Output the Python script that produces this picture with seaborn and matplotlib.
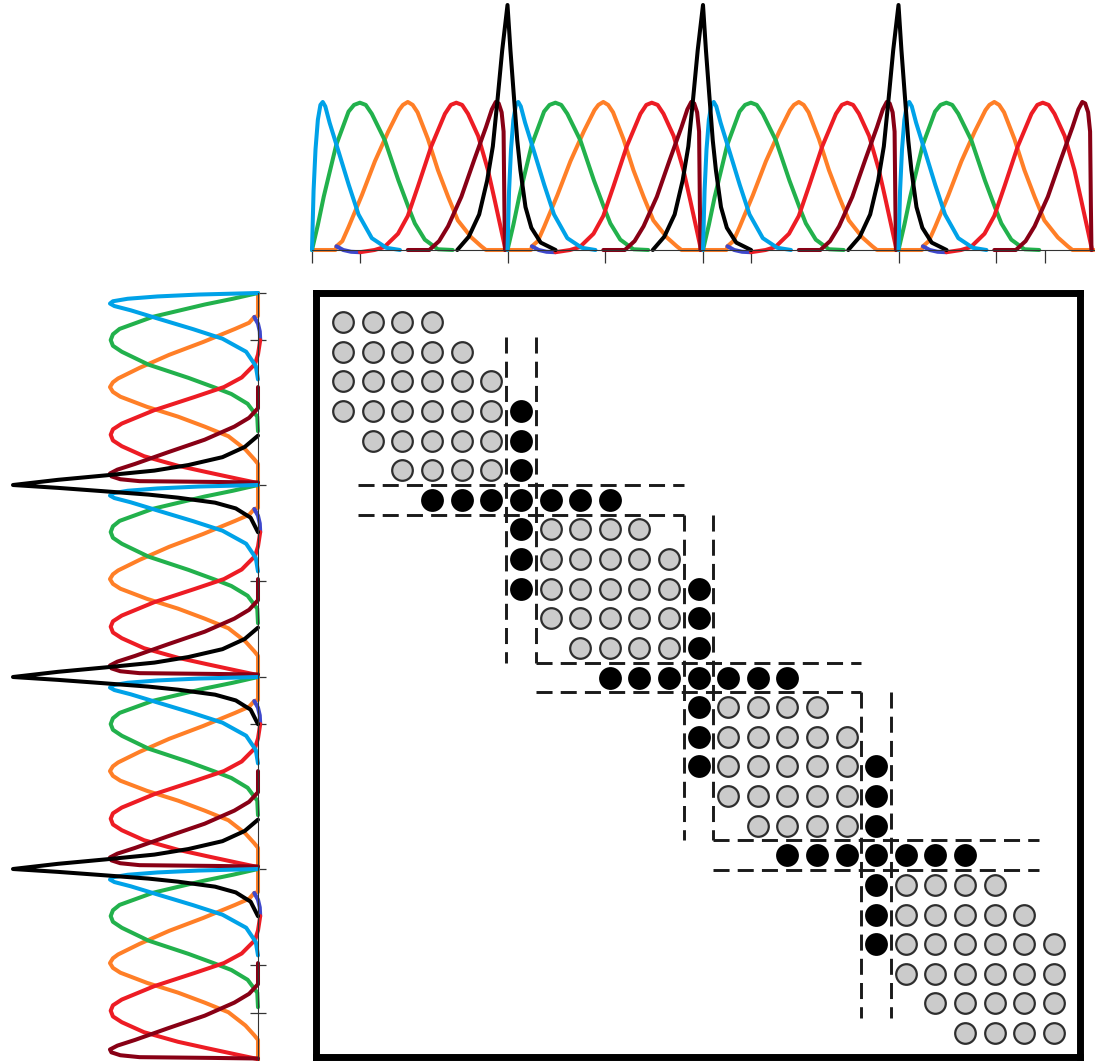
import numpy as np
import pandas as pd
import matplotlib
matplotlib.use("Agg")
import matplotlib.pyplot as plt
import seaborn as sns

sns.set_style("white")

# basis functions of one element, u = position inside the element (0..1),
# v = value (1 = height of the coloured bumps), read off the top strip
cyan_u = [0.0, 0.008, 0.018, 0.03, 0.043, 0.055, 0.068, 0.09, 0.137, 0.188, 0.238, 0.306, 0.38, 0.45]
cyan_v = [0.0, 0.40, 0.68, 0.88, 0.98, 1.00, 0.97, 0.86, 0.66, 0.44, 0.24, 0.08, 0.015, 0.0]
green_u = [0.0, 0.03, 0.06, 0.124, 0.187, 0.215, 0.245, 0.275, 0.306, 0.373, 0.442, 0.493, 0.526, 0.577, 0.644, 0.72]
green_v = [0.0, 0.17, 0.36, 0.71, 0.935, 0.98, 0.995, 0.98, 0.92, 0.74, 0.47, 0.29, 0.18, 0.07, 0.005, 0.0]
orange_u = [0.0, 0.12, 0.125, 0.155, 0.187, 0.255, 0.322, 0.39, 0.445, 0.465, 0.49, 0.515, 0.54, 0.593,
            0.644, 0.696, 0.746, 0.815, 0.866, 0.89, 1.0]
orange_v = [0.0, 0.0, 0.025, 0.06, 0.155, 0.37, 0.6, 0.8, 0.945, 0.98, 1.0, 0.98, 0.93, 0.75,
            0.54, 0.36, 0.2, 0.085, 0.025, 0.0, 0.0]
blue_u = [0.125, 0.16, 0.2, 0.245]
blue_v = [0.025, 0.0, -0.012, -0.015]
red_u = [0.245, 0.32, 0.37, 0.44, 0.49, 0.542, 0.61, 0.68, 0.71, 0.738, 0.768, 0.798, 0.85, 0.90, 0.934, 0.968, 0.99]
red_v = [-0.015, 0.0, 0.02, 0.11, 0.23, 0.43, 0.70, 0.92, 0.98, 0.995, 0.98, 0.92, 0.77, 0.54, 0.34, 0.135, 0.0]
darkred_u = [0.49, 0.6, 0.65, 0.696, 0.764, 0.83, 0.89, 0.92, 0.94, 0.955, 0.97, 0.98, 0.984, 0.987]
darkred_v = [0.0, 0.0, 0.06, 0.16, 0.36, 0.61, 0.83, 0.95, 1.0, 0.99, 0.93, 0.8, 0.3, 0.0]
# interface function, u measured from the element boundary
black_u = [-0.257, -0.198, -0.145, -0.104, -0.075, -0.05, -0.027, 0.0, 0.015, 0.032, 0.05, 0.066, 0.092, 0.122, 0.17, 0.246]
black_v = [0.0, 0.09, 0.24, 0.47, 0.70, 1.03, 1.35, 1.655, 1.35, 1.05, 0.74, 0.54, 0.29, 0.15, 0.05, 0.0]

n_elements = 4
interfaces = [1, 2, 3]
tick_pos = [0, 0.246, 1, 1.5, 2, 2.246, 3, 3.5, 3.75]

# sparsity pattern of the assembled 25 x 25 matrix
n_dof = 25
row_first = [0, 0, 0, 0, 1, 2, 3, 6, 6, 6, 7, 8, 9, 12, 12, 12, 13, 14, 15, 18, 18, 18, 19, 20, 21]
row_last = [3, 4, 5, 6, 6, 6, 9, 10, 11, 12, 12, 12, 15, 16, 17, 18, 18, 18, 21, 22, 23, 24, 24, 24, 24]
interface_dofs = [6, 12, 18]

curves = [
    (orange_u, orange_v, "#ff7f27"),
    (blue_u, blue_v, "#3f48cc"),
    (green_u, green_v, "#22b14c"),
    (red_u, red_v, "#ed1c24"),
    (darkred_u, darkred_v, "#880015"),
    (cyan_u, cyan_v, "#00a2e8"),
]

W, H = 1095, 1061
fig = plt.figure(figsize=(W / 100, H / 100), dpi=100)


def px_axes(x0, y0, x1, y1):
    return fig.add_axes([x0 / W, 1 - y1 / H, (x1 - x0) / W, (y1 - y0) / H])


def draw_basis(ax, vertical):
    lw = 2.9
    for u, v, col in curves:
        for k in range(n_elements):
            uu = np.array(u) + k
            if vertical:
                sns.lineplot(x=v, y=uu, ax=ax, color=col, lw=lw, sort=False, estimator=None,
                             legend=False, clip_on=False, solid_joinstyle="round")
            else:
                sns.lineplot(x=uu, y=v, ax=ax, color=col, lw=lw, sort=False, estimator=None,
                             legend=False, clip_on=False, solid_joinstyle="round")
    for b in interfaces:
        uu = np.array(black_u) + b
        if vertical:
            sns.lineplot(x=black_v, y=uu, ax=ax, color="black", lw=lw, sort=False, estimator=None,
                         legend=False, clip_on=False, solid_joinstyle="round")
        else:
            sns.lineplot(x=uu, y=black_v, ax=ax, color="black", lw=lw, sort=False, estimator=None,
                         legend=False, clip_on=False, solid_joinstyle="round")
    for s in ax.spines.values():
        s.set_visible(False)
    ax.set_xlabel("")
    ax.set_ylabel("")


# top strip
ax_top = px_axes(312, 5, 1094, 250)
draw_basis(ax_top, vertical=False)
ax_top.set_xlim(0, n_elements)
ax_top.set_ylim(0, 1.655)
ax_top.spines["bottom"].set_visible(True)
ax_top.spines["bottom"].set_color("#333333")
ax_top.spines["bottom"].set_linewidth(0.8)
ax_top.set_xticks(tick_pos)
ax_top.set_yticks([])
ax_top.tick_params(axis="x", direction="out", length=9, width=0.9, color="#333333",
                   labelbottom=False, bottom=True)

# left strip (same functions turned on their side)
ax_left = px_axes(13, 293, 258, 1061)
draw_basis(ax_left, vertical=True)
ax_left.set_xlim(1.655, 0)
ax_left.set_ylim(n_elements, 0)
ax_left.spines["right"].set_visible(True)
ax_left.spines["right"].set_color("#333333")
ax_left.spines["right"].set_linewidth(0.8)
ax_left.set_yticks(tick_pos)
ax_left.set_xticks([])
ax_left.yaxis.tick_right()
ax_left.tick_params(axis="y", direction="inout", length=12, width=0.9, color="#333333",
                    labelright=False, labelleft=False, right=True, left=False)

# matrix
rows, cols, kind = [], [], []
for i in range(n_dof):
    for j in range(row_first[i], row_last[i] + 1):
        rows.append(i)
        cols.append(j)
        kind.append("interface" if (i in interface_dofs or j in interface_dofs) else "interior")
entries = pd.DataFrame({"row": rows, "col": cols, "kind": kind})

ax_m = px_axes(316, 293, 1080, 1057)
inner = entries[entries["kind"] == "interior"]
iface = entries[entries["kind"] == "interface"]
sns.scatterplot(data=inner, x="col", y="row", ax=ax_m, s=220, color="#cbcbcb",
                edgecolor="#2e2e2e", linewidth=1.6, legend=False, zorder=3)
sns.scatterplot(data=iface, x="col", y="row", ax=ax_m, s=220, color="black",
                edgecolor="black", linewidth=1.6, legend=False, zorder=3)

half = 5.5
for b in interface_dofs:
    for off in (-0.5, 0.5):
        ax_m.plot([b + off, b + off], [b - half, b + half], color="#1a1a1a", lw=2.1,
                  dashes=(5.5, 2.8), zorder=2)
        ax_m.plot([b - half, b + half], [b + off, b + off], color="#1a1a1a", lw=2.1,
                  dashes=(5.5, 2.8), zorder=2)

ax_m.set_xlim(-0.92, 24.88)
ax_m.set_ylim(24.81, -0.98)
ax_m.set_xticks([])
ax_m.set_yticks([])
ax_m.set_xlabel("")
ax_m.set_ylabel("")
for s in ax_m.spines.values():
    s.set_visible(True)
    s.set_color("black")
    s.set_linewidth(5)

fig.savefig("out.png", dpi=100)
